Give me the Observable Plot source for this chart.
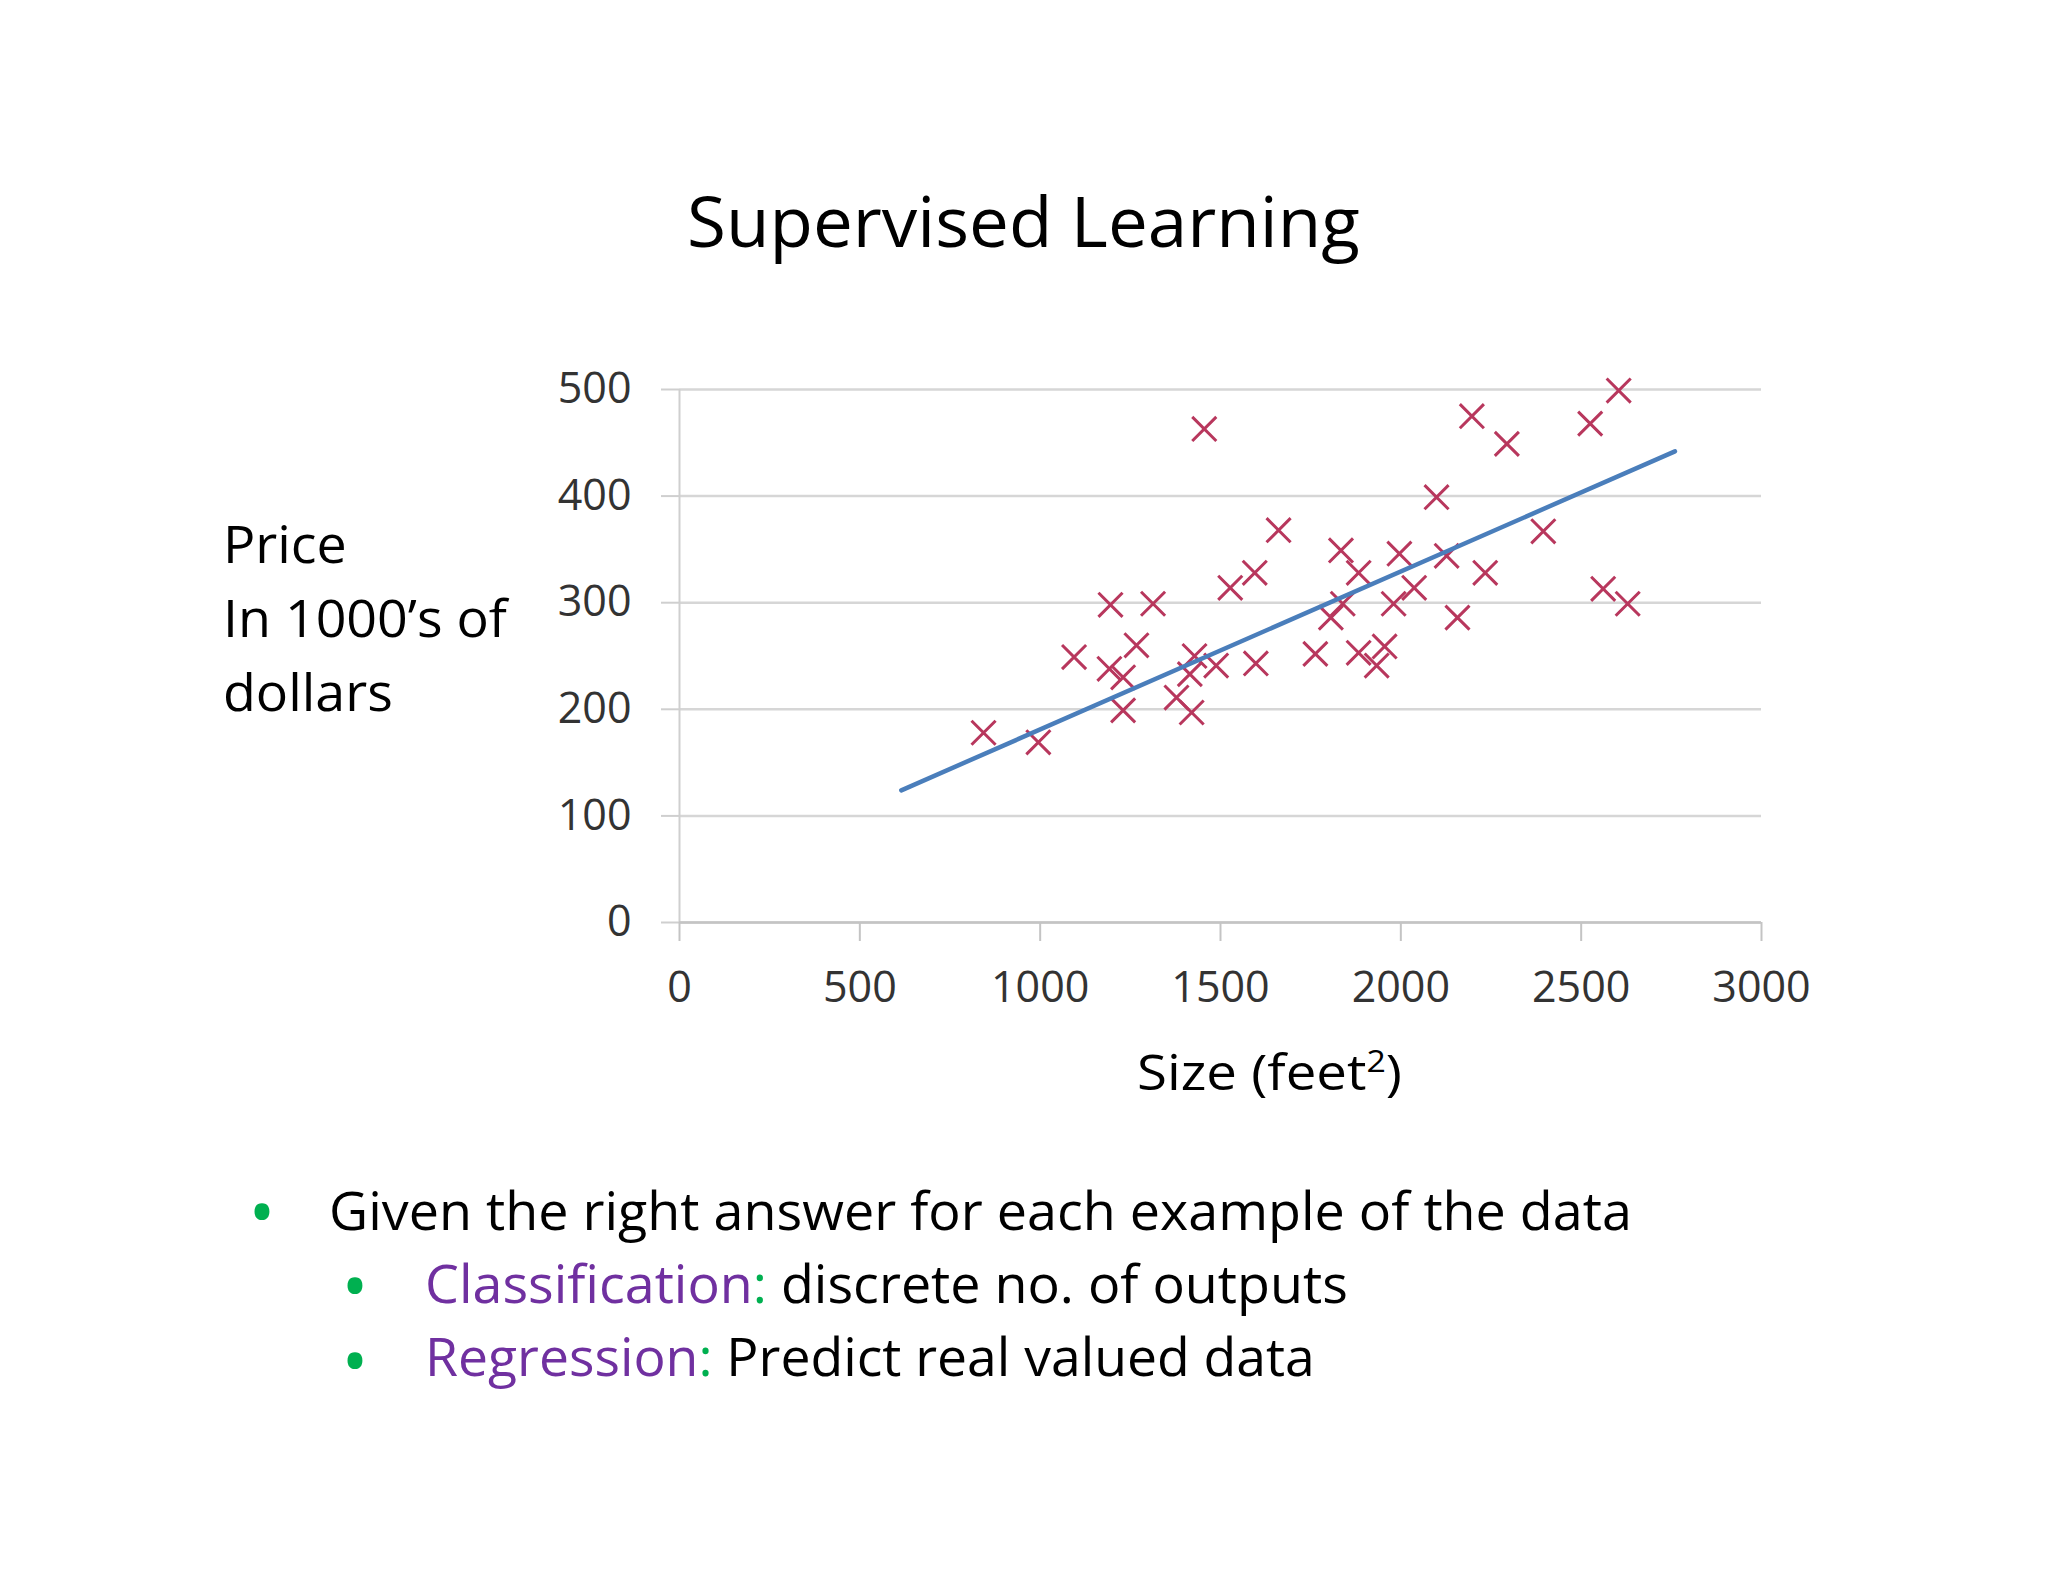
<!DOCTYPE html>
<html>
<head>
<meta charset="utf-8">
<script src="https://cdn.jsdelivr.net/npm/d3@7"></script>
<script src="https://cdn.jsdelivr.net/npm/@observablehq/plot@0.6"></script>
<style>
  html, body { margin: 0; padding: 0; background: #ffffff; }
  #page { position: relative; width: 2048px; height: 1582px; overflow: hidden; background: #ffffff; }
  #page > svg { position: absolute; left: 0; top: 0; }
</style>
</head>
<body>
<div id="page"></div>
<script>
// ---- data ----
const sizes  = [843, 995, 1094, 1195, 1313, 1192, 1230, 1230, 1267, 1428, 1415, 1488, 1378, 1420, 1455,
                2604, 2525, 2197, 2294, 2099, 2395, 1661, 1595, 1527, 1834, 1883, 1996, 2127, 2234, 2037,
                1980, 1839, 1806, 2157, 2561, 2629, 1763, 1883, 1955, 1933, 1598];
const prices = [178, 169, 249, 298, 299, 238, 230, 199, 260, 250, 233, 241, 211, 197, 463,
                499, 468, 475, 449, 399, 367, 368, 328, 314, 349, 328, 346, 344, 328, 314,
                299, 299, 286, 286, 313, 299, 252, 253, 259, 241, 243];
const fitSizes  = [615, 2760];
const fitPrices = [124, 442];
const xTicks = [0, 500, 1000, 1500, 2000, 2500, 3000];
const yTicks = [0, 100, 200, 300, 400, 500];

const points = sizes.map((s, i) => ({size: s, price: prices[i]}));
const fit = fitSizes.map((s, i) => ({size: s, price: fitPrices[i]}));

const page = document.getElementById("page");

const chart = Plot.plot({
  width: 2048,
  height: 1582,
  marginLeft: 679,
  marginRight: 287,
  marginTop: 389,
  marginBottom: 660,
  x: {domain: [0, 3000]},
  y: {domain: [0, 500]},
  style: {fontFamily: "'Open Sans', sans-serif", fontSize: "43px", background: "transparent", color: "#333333"},
  marks: [
    Plot.ruleY(yTicks, {x1: 0, x2: 3000, stroke: "#d6d6d6", strokeWidth: 2.5}),
    Plot.ruleX([0], {y1: 0, y2: 500, stroke: "#cfcfcf", strokeWidth: 2}),
    Plot.ruleY([0], {x1: 0, x2: 3000, stroke: "#c4c4c4", strokeWidth: 2.5}),
    Plot.axisY({ticks: yTicks, tickSize: 18, tickPadding: 30, stroke: "#cfcfcf", fill: "#333333",
                strokeWidth: 2, label: null, tickFormat: d => String(d)}),
    Plot.axisX({ticks: xTicks, tickSize: 19, tickPadding: 30, stroke: "#c4c4c4", fill: "#333333",
                strokeWidth: 2, label: null, tickFormat: d => String(d)}),
    Plot.dot(points, {x: "size", y: "price", symbol: "times", r: 11, stroke: "#b8375d", strokeWidth: 3}),
    Plot.line(fit, {x: "size", y: "price", stroke: "#4a7ebb", strokeWidth: 4.5})
  ]
});
page.appendChild(chart);

// ---- slide text overlay ----
const svg = d3.select(page).append("svg")
  .attr("width", 2048).attr("height", 1582)
  .style("pointer-events", "none")
  .style("font-family", "'Open Sans', sans-serif");

function fitText(sel, target) {
  const w = sel.node().getBBox().width;
  const x = +sel.attr("x");
  const k = target / w;
  sel.attr("transform", `translate(${x},0) scale(${k},1) translate(${-x},0)`);
  return k;
}

function addText(x, y, size, parts, target) {
  const t = svg.append("text").attr("x", x).attr("y", y).attr("font-size", size).attr("fill", "#000");
  parts.forEach(p => {
    const ts = t.append("tspan").text(p.t).attr("fill", p.c || "#000");
    if (p.sup) ts.attr("font-size", size * 0.62).attr("dy", -size * 0.36);
    if (p.after) ts.attr("dy", size * 0.36);
  });
  if (target) fitText(t, target);
  return t;
}

// title
addText(687, 247, 70, [{t: "Supervised Learning"}], 673);

// y label (three lines, same horizontal scale)
addText(223, 637, 51, [{t: "In 1000’s of"}], 287);
const l1 = addText(223, 563, 51, [{t: "Price"}]);
const l3 = addText(223, 711, 51, [{t: "dollars"}]);
(function() {
  const t = svg.append("text").attr("font-size", 51).text("In 1000’s of");
  const w = t.node().getBBox().width; t.remove();
  const k = 287 / w;
  [l1, l3].forEach(s => s.attr("transform", `translate(223,0) scale(${k},1) translate(-223,0)`));
})();

// x label
addText(1137, 1090, 49, [{t: "Size (feet"}, {t: "2", sup: true}, {t: ")", after: true}], 265);

// bullets
const green = "#00b050", purple = "#7030a0";
function bullet(cx, baseline, size) {
  svg.append("text").attr("x", cx).attr("y", baseline).attr("font-size", size)
    .attr("text-anchor", "middle").attr("fill", green).attr("font-weight", 700).text("•");
}
bullet(262, 1231, 53);
addText(329, 1230, 53, [{t: "Given the right answer for each example of the data"}], 1303);
bullet(355, 1305, 53);
addText(425, 1303, 53, [{t: "Classification", c: purple}, {t: ":", c: green}, {t: " discrete no. of outputs"}], 923);
bullet(355, 1380, 53);
addText(425, 1376, 53, [{t: "Regression", c: purple}, {t: ":", c: green}, {t: " Predict real valued data"}], 890);
</script>
</body>
</html>
